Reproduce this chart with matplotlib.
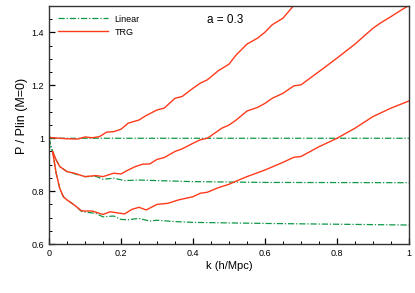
import matplotlib
matplotlib.use("Agg")
import matplotlib.pyplot as plt
import matplotlib.ticker as ticker

plt.rcParams.update({
    "font.family": ["Liberation Sans", "DejaVu Sans"],
    "font.size": 7,
})

RED = "#ff3a1a"
GREEN = "#0f9848"

# --- Linear curves (dash-dot) ---
k_lin_top = [0.0, 0.005, 1.0]
p_lin_top = [1.01, 1.0, 1.0]

k_lin_mid = [0.0, 0.005, 0.01, 0.02, 0.03, 0.05, 0.07, 0.1, 0.13, 0.15, 0.18, 0.21,
             0.25, 0.3, 0.4, 0.6, 1.0]
p_lin_mid = [1.0, 0.97, 0.95, 0.918, 0.893, 0.874, 0.866, 0.855, 0.856, 0.845, 0.849,
             0.840, 0.842, 0.840, 0.836, 0.833, 0.832]

k_lin_bot = [0.0, 0.005, 0.01, 0.02, 0.03, 0.04, 0.05, 0.07, 0.09, 0.1, 0.13, 0.15,
             0.18, 0.2, 0.22, 0.25, 0.28, 0.3, 0.35, 0.4, 0.6, 1.0]
p_lin_bot = [1.0, 0.97, 0.95, 0.868, 0.81, 0.779, 0.767, 0.748, 0.724, 0.721, 0.716,
             0.703, 0.706, 0.693, 0.692, 0.697, 0.687, 0.690, 0.685, 0.682, 0.678, 0.672]

# --- TRG curves (solid) ---
k_trg_top = [0.0, 0.05, 0.08, 0.1, 0.12, 0.14, 0.16, 0.18, 0.2, 0.22, 0.25, 0.27,
             0.3, 0.32, 0.35, 0.37, 0.4, 0.42, 0.44, 0.47, 0.5, 0.52, 0.55, 0.58,
             0.6, 0.62, 0.65, 0.68]
p_trg_top = [1.003, 0.998, 0.997, 1.005, 1.002, 1.006, 1.023, 1.025, 1.034, 1.057,
             1.069, 1.086, 1.107, 1.114, 1.151, 1.158, 1.189, 1.208, 1.221, 1.255,
             1.280, 1.315, 1.356, 1.379, 1.401, 1.429, 1.454, 1.502]

k_trg_mid = [0.01, 0.02, 0.03, 0.05, 0.07, 0.1, 0.13, 0.15, 0.18, 0.2, 0.22, 0.24,
             0.26, 0.28, 0.3, 0.32, 0.35, 0.37, 0.4, 0.42, 0.44, 0.46, 0.48, 0.5,
             0.52, 0.55, 0.58, 0.6, 0.62, 0.65, 0.68, 0.7, 0.75, 0.8, 0.85, 0.9,
             0.92, 0.95, 0.98, 1.0]
p_trg_mid = [0.95, 0.918, 0.893, 0.874, 0.868, 0.855, 0.859, 0.855, 0.868, 0.865,
             0.880, 0.893, 0.902, 0.903, 0.920, 0.927, 0.950, 0.960, 0.981, 0.994,
             1.000, 1.019, 1.038, 1.050, 1.069, 1.103, 1.117, 1.132, 1.151, 1.170,
             1.198, 1.202, 1.252, 1.303, 1.356, 1.416, 1.435, 1.460, 1.486, 1.502]

k_trg_bot = [0.01, 0.02, 0.03, 0.04, 0.05, 0.07, 0.09, 0.1, 0.12, 0.15, 0.17, 0.2,
             0.21, 0.23, 0.25, 0.27, 0.3, 0.33, 0.36, 0.4, 0.42, 0.44, 0.47, 0.5,
             0.52, 0.55, 0.58, 0.6, 0.65, 0.68, 0.7, 0.75, 0.8, 0.85, 0.9, 0.95, 1.0]
p_trg_bot = [0.95, 0.868, 0.81, 0.779, 0.767, 0.748, 0.726, 0.725, 0.725, 0.712,
             0.722, 0.716, 0.714, 0.731, 0.739, 0.729, 0.750, 0.754, 0.767, 0.779,
             0.792, 0.796, 0.813, 0.826, 0.838, 0.855, 0.870, 0.880, 0.909, 0.928,
             0.931, 0.968, 1.000, 1.038, 1.082, 1.114, 1.141]

fig = plt.figure(figsize=(4.15, 2.93), dpi=100)
ax = fig.add_axes([0.118, 0.167, 0.8675, 0.8125])

lin_style = dict(color=GREEN, linestyle=(0, (5, 1.5, 1, 1.5)), linewidth=0.9)
trg_style = dict(color=RED, linestyle="-", linewidth=1.0)

ax.plot(k_lin_top, p_lin_top, label="Linear", **lin_style)
ax.plot(k_lin_mid, p_lin_mid, **lin_style)
ax.plot(k_lin_bot, p_lin_bot, **lin_style)
ax.plot(k_trg_top, p_trg_top, label="TRG", **trg_style)
ax.plot(k_trg_mid, p_trg_mid, **trg_style)
ax.plot(k_trg_bot, p_trg_bot, **trg_style)

ax.set_xlim(0, 1)
ax.set_ylim(0.6, 1.5)
ax.xaxis.set_major_locator(ticker.MultipleLocator(0.2))
ax.xaxis.set_minor_locator(ticker.MultipleLocator(0.05))
ax.yaxis.set_major_locator(ticker.MultipleLocator(0.2))
ax.yaxis.set_minor_locator(ticker.MultipleLocator(0.05))
fmt = ticker.FuncFormatter(lambda v, p: f"{v:g}")
ax.xaxis.set_major_formatter(fmt)
ax.yaxis.set_major_formatter(fmt)
ax.tick_params(which="both", direction="in", top=False, right=False, labelsize=6.5)
ax.tick_params(which="major", length=4, width=0.9)
ax.tick_params(which="minor", length=2, width=0.7)
for s in ax.spines.values():
    s.set_color("#333333")
    s.set_linewidth(1.0)

ax.set_xlabel("k (h/Mpc)", fontsize=8, labelpad=2)
ax.set_ylabel("P / Plin (M=0)", fontsize=9)
ax.yaxis.set_label_coords(-0.058, 0.54)
ax.text(0.44, 1.448, "a = 0.3", fontsize=8.5, va="center")

ax.legend(loc="upper left", frameon=False, fontsize=6.5, handlelength=5.6,
          handletextpad=0.7, borderaxespad=0.55, labelspacing=0.45)

fig.savefig("out.png")
